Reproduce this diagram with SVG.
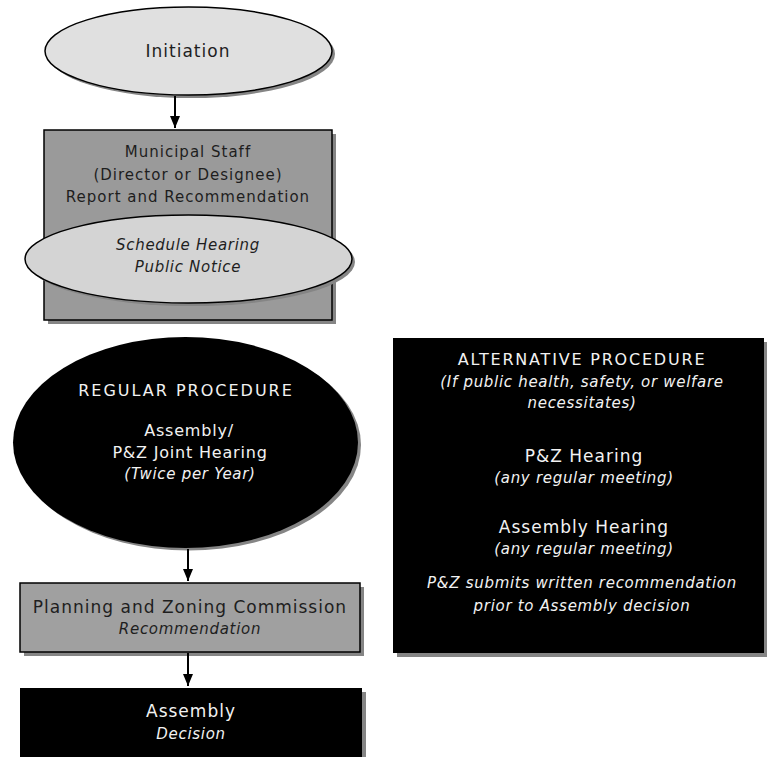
<svg xmlns="http://www.w3.org/2000/svg" width="767" height="757" viewBox="0 0 767 757">
<defs>
<style>
text{font-family:"DejaVu Sans","Verdana",sans-serif;text-anchor:middle}
.d{fill:#1e1e1e}
.w{fill:#f2f2f2}
.r17{font-size:17px;letter-spacing:1px}
.r15{font-size:15px;letter-spacing:1px}
.r16{font-size:16px;letter-spacing:0.8px}
.cap{font-size:16px;letter-spacing:2px}
.it{font-size:15px;letter-spacing:0.7px;font-style:italic}
.sh{fill:#858585}
.ln{stroke:#000;stroke-width:1.5}
.conn{stroke:#000;stroke-width:2;fill:none}
</style>
<marker id="ah" viewBox="0 0 12 10" refX="12" refY="5" markerWidth="6" markerHeight="5.5" orient="auto" markerUnits="strokeWidth">
<path d="M0,0 L12,5 L0,10 z" fill="#000"/>
</marker>
</defs>
<rect width="767" height="757" fill="#fff"/>

<g id="initiation">
<ellipse class="sh" cx="191.5" cy="54" rx="143.5" ry="44"/>
<ellipse cx="188.5" cy="51" rx="143.5" ry="44" fill="#e0e0e0" class="ln"/>
<text class="d r17" x="188" y="57">Initiation</text>
</g>

<g id="municipal-staff">
<rect class="sh" x="48" y="134" width="288" height="190"/>
<rect x="44" y="130" width="288" height="190" fill="#9a9a9a" class="ln"/>
<text class="d r15" x="188" y="157">Municipal Staff</text>
<text class="d r15" x="188" y="180">(Director or Designee)</text>
<text class="d r15" x="188" y="202">Report and Recommendation</text>
</g>

<g id="schedule-hearing">
<ellipse class="sh" cx="191.5" cy="262" rx="163.5" ry="44"/>
<ellipse cx="188.5" cy="259" rx="163.5" ry="44" fill="#d4d4d4" class="ln"/>
<text class="d it" x="188" y="250">Schedule Hearing</text>
<text class="d it" x="188" y="272">Public Notice</text>
</g>

<g id="regular-procedure">
<ellipse class="sh" cx="188.5" cy="445" rx="172.5" ry="105.5"/>
<ellipse cx="185.5" cy="442.5" rx="172.5" ry="105.5" fill="#000"/>
<text class="w cap" x="186" y="396">REGULAR PROCEDURE</text>
<text class="w r16" x="189" y="436">Assembly/</text>
<text class="w r16" x="190" y="458">P&amp;Z Joint Hearing</text>
<text class="w it" x="190" y="479">(Twice per Year)</text>
</g>

<g id="planning-zoning">
<rect class="sh" x="24" y="587" width="340" height="69"/>
<rect x="20" y="583" width="340" height="69" fill="#a0a0a0" class="ln"/>
<text class="d r17" x="190" y="613">Planning and Zoning Commission</text>
<text class="d it" x="190" y="634">Recommendation</text>
</g>

<g id="assembly-decision">
<rect class="sh" x="24" y="692" width="342" height="70"/>
<rect x="20" y="688" width="342" height="72" fill="#000"/>
<text class="w r17" x="191" y="717">Assembly</text>
<text class="w it" x="191" y="739">Decision</text>
</g>

<g id="alternative-procedure">
<rect class="sh" x="397" y="342" width="372" height="315"/>
<rect x="393" y="338" width="371" height="315" fill="#000"/>
<text class="w cap" x="582" y="365" style="letter-spacing:1.8px">ALTERNATIVE PROCEDURE</text>
<text class="w it" x="582" y="387">(If public health, safety, or welfare</text>
<text class="w it" x="582" y="408">necessitates)</text>
<text class="w r17" x="584" y="462">P&amp;Z Hearing</text>
<text class="w it" x="584" y="483">(any regular meeting)</text>
<text class="w r17" x="584" y="533">Assembly Hearing</text>
<text class="w it" x="584" y="554">(any regular meeting)</text>
<text class="w it" x="582" y="588">P&amp;Z submits written recommendation</text>
<text class="w it" x="582" y="611">prior to Assembly decision</text>
</g>

<g id="connectors">
<line class="conn" x1="175" y1="96" x2="175" y2="128" marker-end="url(#ah)"/>
<line class="conn" x1="188" y1="549" x2="188" y2="581" marker-end="url(#ah)"/>
<line class="conn" x1="188" y1="653" x2="188" y2="686" marker-end="url(#ah)"/>
</g>
</svg>
